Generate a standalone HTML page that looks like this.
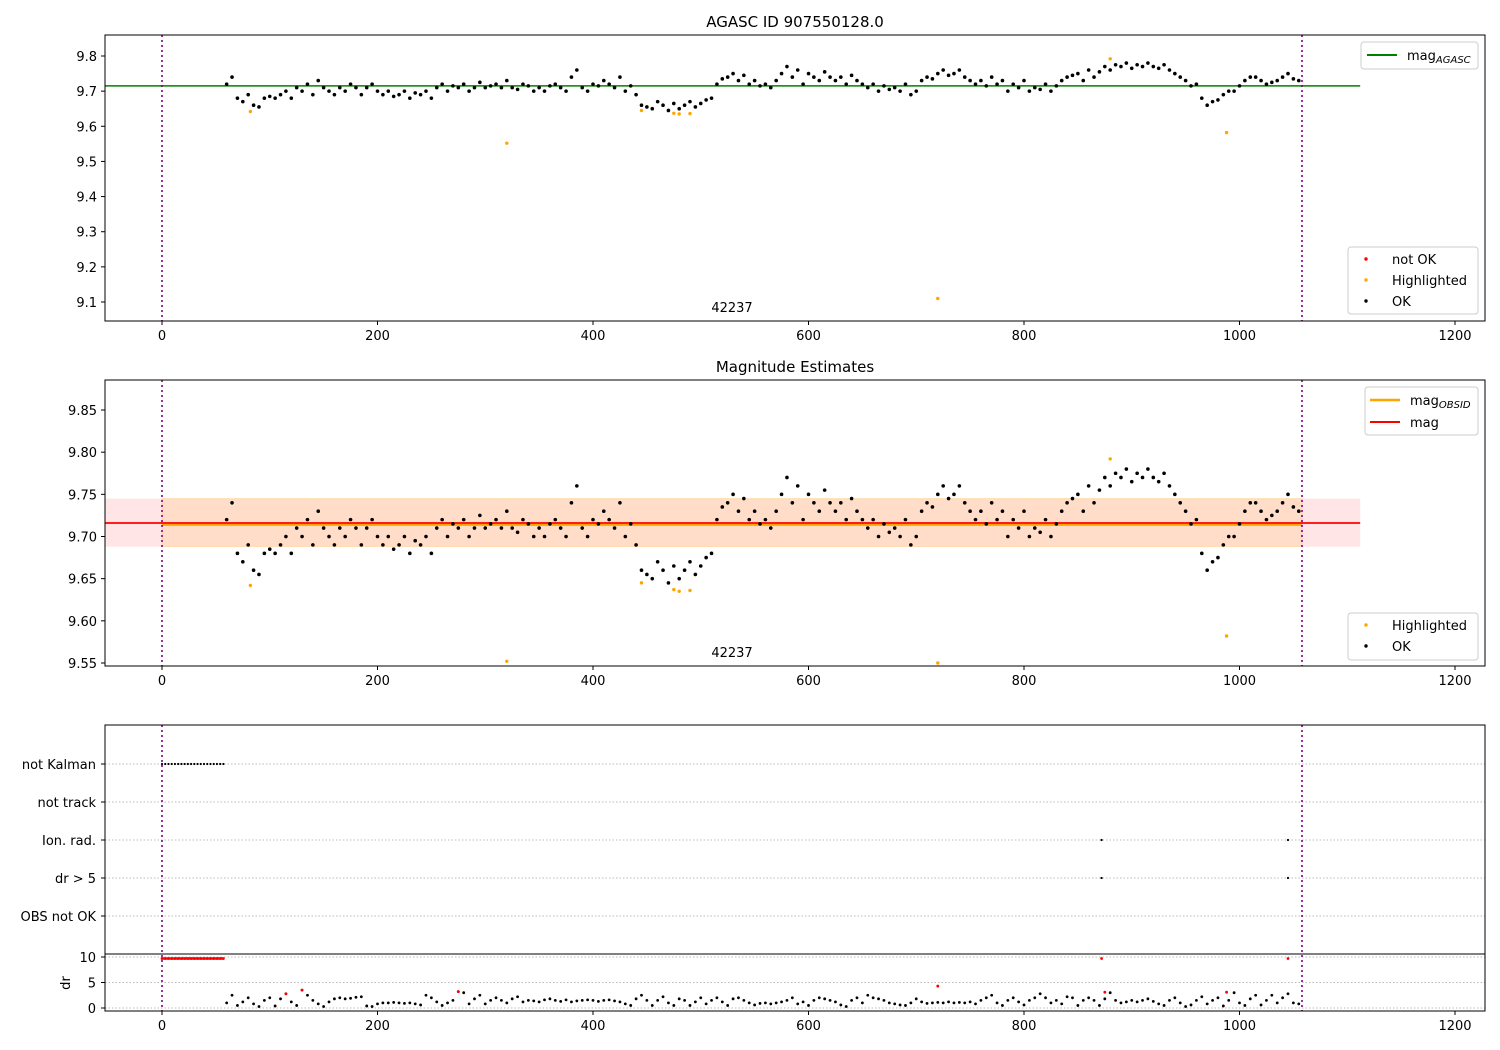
<!DOCTYPE html>
<html><head><meta charset="utf-8"><style>
body{margin:0;background:#fff}
svg{display:block;font-family:"DejaVu Sans","Liberation Sans",sans-serif}
</style></head><body>
<svg id="c" width="1500" height="1050" xmlns="http://www.w3.org/2000/svg"></svg>
<script>
const magT0 = 60, magDt = 5;
const magValues = [
9.72,9.74,9.68,9.67,9.69,9.66,9.655,9.68,9.685,
9.68,9.69,9.70,9.68,9.71,9.70,9.72,9.69,9.73,9.71,9.70,9.69,9.71,9.70,9.72,9.71,9.69,9.71,9.72,9.70,
9.69,9.70,9.685,9.69,9.70,9.68,9.695,9.69,9.70,9.68,
9.71,9.72,9.70,9.715,9.71,9.72,9.70,9.71,9.725,9.71,
9.715,9.72,9.71,9.73,9.71,9.705,9.72,9.715,9.70,9.71,
9.70,9.715,9.72,9.71,9.70,9.74,9.76,9.71,9.70,9.72,
9.715,9.73,9.72,9.71,9.74,9.70,9.715,9.69,
9.66,9.655,9.65,9.67,9.66,9.645,9.665,9.65,9.66,9.67,9.655,9.665,
9.675,9.68,
9.72,9.735,9.74,9.75,9.73,9.745,
9.72,9.73,9.715,9.72,9.71,9.73,9.75,9.77,
9.74,9.76,9.72,9.75,9.74,9.73,9.755,9.74,
9.73,9.74,9.72,9.745,9.73,9.72,
9.71,9.72,9.70,9.715,9.705,9.71,9.70,9.72,9.69,9.70,
9.73,9.74,9.735,9.75,
9.76,9.745,9.75,9.76,9.74,9.73,
9.72,9.73,9.715,9.74,9.72,9.73,9.70,9.72,9.71,9.73,
9.70,9.71,9.705,9.72,9.70,9.715,
9.73,9.74,9.745,9.75,9.73,9.76,9.74,9.755,
9.77,9.76,9.775,9.77,9.78,9.765,9.775,9.77,9.78,9.77,9.765,9.775,9.76,9.75,
9.74,9.73,9.715,9.72,
9.68,9.66,9.67,9.675,9.69,9.70,
9.70,9.715,9.73,9.74,
9.74,9.73,9.72,9.725,9.73,9.74,9.75,9.735,9.73];
const hlTimes = [82,320,445,475,480,490,720,880,988];
const hlMags = [9.642,9.552,9.645,9.637,9.635,9.636,9.11,9.792,9.582];
const drValues = [
1.0,2.5,0.5,1.2,2.0,0.8,0.3,1.5,2.0,0.4,
1.8,2.8,1.2,0.5,3.5,2.5,1.5,0.8,0.3,1.2,
1.8,2.0,1.8,1.9,2.1,2.2,0.4,0.3,0.8,1.0,
1.0,1.1,1.0,0.9,1.0,0.8,0.6,2.5,2.0,1.2,
0.5,1.0,1.5,3.2,3.0,0.8,1.8,2.5,0.8,1.5,
2.0,1.5,1.0,1.8,2.2,1.2,1.5,1.4,1.2,1.6,
1.8,1.5,1.3,1.6,1.2,1.4,1.5,1.6,1.5,1.3,
1.5,1.6,1.4,1.2,0.8,0.5,1.8,2.5,1.5,0.5,
1.5,2.2,1.0,0.5,1.8,1.5,0.5,1.2,2.0,0.8,
1.5,2.0,1.2,0.5,1.8,2.0,1.5,1.0,0.6,0.9,
1.0,0.8,1.0,1.2,1.5,2.0,0.8,1.2,0.5,1.5,
2.0,1.8,1.5,1.2,0.6,0.3,1.5,2.0,1.0,2.5,
2.0,1.8,1.5,1.0,0.8,0.6,0.5,1.0,1.8,1.2,
0.9,1.0,1.1,1.0,1.2,1.0,1.1,1.0,1.2,0.8,
1.5,2.0,2.5,1.0,0.5,1.5,2.0,1.2,0.6,1.5,
2.0,2.8,2.0,1.0,1.5,0.8,2.2,2.0,0.5,1.5,
2.0,1.5,0.5,1.8,3.0,1.5,1.0,1.2,1.5,1.2,
1.5,1.8,1.3,0.8,0.5,1.5,2.0,1.0,0.3,0.6,
1.5,2.2,0.8,1.5,2.0,0.4,1.5,3.0,1.0,0.5,
1.8,2.5,0.6,1.5,2.5,1.0,2.0,2.8,1.0,0.8];
const drRedTimes = [115,130,275,720,875,988];
const drRedValues = [2.8,3.5,3.2,4.3,3.1,3.1];
const kalmanTimes = [0,3,6,9,12,15,18,21,24,27,30,33,36,39,42,45,48,51,54,57];
const flagTimes = [872,1045];
const flagLabels = ["not Kalman","not track","Ion. rad.","dr > 5","OBS not OK"];
const xTicks = [0,200,400,600,800,1000,1200];
const y1Ticks = [9.1,9.2,9.3,9.4,9.5,9.6,9.7,9.8];
const y2Ticks = [9.55,9.60,9.65,9.70,9.75,9.80,9.85];
const drTicks = [0,5,10];
const magAgasc = 9.715, magObsid = 9.715, magMean = 9.716, bandLo = 9.688, bandHi = 9.745;
const tStart = 0, tEnd = 1058, lineEnd = 1112;

const svg = document.getElementById('c');
const NS = 'http://www.w3.org/2000/svg';
function mk(tag, attrs, parent){const e=document.createElementNS(NS,tag);for(const k in attrs)e.setAttribute(k,attrs[k]);(parent||svg).appendChild(e);return e;}
const X = t => 162 + t*1.0775;
const Y1 = v => 56 + (9.8 - v)*351.43;
const Y2 = v => 410 + (9.85 - v)*843.3;
const YD = v => 1008 - v*5.1;
const flagY = i => 764 + i*38;
const L=105, R=1485;

function xAxis(yb, labels, name){
  xTicks.forEach(t=>{
    mk('line',{x1:X(t),x2:X(t),y1:yb,y2:yb+4,stroke:'#000'});
    if(labels){const tx=mk('text',{x:X(t),y:yb+19,'text-anchor':'middle','font-size':13});tx.textContent=t;
    
    }
  });
}
function frame(top,bot,name){
  const r=mk('rect',{x:L,y:top,width:R-L,height:bot-top,fill:'none',stroke:'#000','stroke-width':1});
  
  
}
function vlines(top,bot){
  [tStart,tEnd].forEach(t=>mk('line',{x1:X(t),x2:X(t),y1:top,y2:bot,stroke:'#800080','stroke-width':1.6,'stroke-dasharray':'2,3'}));
}
function txt(x,y,s,attrs,name){const e=mk('text',Object.assign({x:x,y:y,'font-size':13},attrs||{}));e.textContent=s;
  
  return e;}

// ---------- Panel 1 ----------
txt(795,27,'AGASC ID 907550128.0',{'text-anchor':'middle','font-size':15},'title-top');
y1Ticks.forEach(v=>{mk('line',{x1:L-4,x2:L,y1:Y1(v),y2:Y1(v),stroke:'#000'});txt(L-8,Y1(v)+5,v.toFixed(1),{'text-anchor':'end'},'y1-tick-label');});
mk('line',{x1:L,x2:X(lineEnd),y1:Y1(magAgasc),y2:Y1(magAgasc),stroke:'#008000','stroke-width':1.6});
magValues.forEach((v,i)=>{const c=mk('circle',{cx:X(magT0+i*magDt),cy:Y1(v),r:1.8,fill:'#000'});
  
  });
hlTimes.forEach((t,i)=>{const c=mk('circle',{cx:X(t),cy:Y1(hlMags[i]),r:1.7,fill:'orange'});
  
  });
vlines(35,321);
txt(732,312,'42237',{'text-anchor':'middle'},'obsid-label-top');
frame(35,321,'top-plot-area');
xAxis(321,true,'x1');

function legendBox(x,y,w,h,name){const r=mk('rect',{x:x,y:y,width:w,height:h,rx:3,fill:'#fff','fill-opacity':0.85,stroke:'#ccc'});
  
  }
legendBox(1361,42,117,27,'legend-mag-agasc');
mk('line',{x1:1367,x2:1397,y1:55,y2:55,stroke:'#008000','stroke-width':2});
const la=txt(1407,60,'mag',{},'legend-entry-mag-agasc');
const sa=mk('tspan',{'font-size':10,'font-style':'italic',dy:3},la);sa.textContent='AGASC';
legendBox(1348,247,130,67,'legend-points-top');
[['not OK','red',259],['Highlighted','orange',280],['OK','#000',301]].forEach(e=>{
  mk('circle',{cx:1366,cy:e[2],r:1.7,fill:e[1]});txt(1392,e[2]+5,e[0],{},'legend-entry');});

// ---------- Panel 2 ----------
txt(795,372,'Magnitude Estimates',{'text-anchor':'middle','font-size':15},'title-middle');
mk('rect',{x:L,y:Y2(bandHi),width:X(lineEnd)-L,height:Y2(bandLo)-Y2(bandHi),fill:'rgba(255,0,0,0.1)'});
mk('rect',{x:X(tStart),y:Y2(bandHi),width:X(tEnd)-X(tStart),height:Y2(bandLo)-Y2(bandHi),fill:'rgba(255,165,0,0.12)',stroke:'rgba(255,165,0,0.2)'});
mk('line',{x1:X(tStart),x2:X(tEnd),y1:Y2(magObsid)+1,y2:Y2(magObsid)+1,stroke:'orange','stroke-width':2});
mk('line',{x1:L,x2:X(lineEnd),y1:Y2(magMean),y2:Y2(magMean),stroke:'red','stroke-width':1.8});
y2Ticks.forEach(v=>{mk('line',{x1:L-4,x2:L,y1:Y2(v),y2:Y2(v),stroke:'#000'});txt(L-8,Y2(v)+5,v.toFixed(2),{'text-anchor':'end'},'y2-tick-label');});
magValues.forEach((v,i)=>{const c=mk('circle',{cx:X(magT0+i*magDt),cy:Y2(v),r:1.8,fill:'#000'});
  
  });
hlTimes.forEach((t,i)=>{const c=mk('circle',{cx:X(t),cy:Math.min(Y2(hlMags[i]),663),r:1.7,fill:'orange'});
  
  });
vlines(380,666);
txt(732,657,'42237',{'text-anchor':'middle'},'obsid-label-middle');
frame(380,666,'middle-plot-area');
xAxis(666,true,'x2');
legendBox(1365,387,113,48,'legend-mag-lines');
mk('line',{x1:1370,x2:1400,y1:400,y2:400,stroke:'orange','stroke-width':2.5});
const lo=txt(1410,405,'mag',{},'legend-entry-mag-obsid');
const so=mk('tspan',{'font-size':10,'font-style':'italic',dy:3},lo);so.textContent='OBSID';
mk('line',{x1:1370,x2:1400,y1:422,y2:422,stroke:'red','stroke-width':2});
txt(1410,427,'mag',{},'legend-entry-mag');
legendBox(1348,613,130,47,'legend-points-middle');
[['Highlighted','orange',625],['OK','#000',646]].forEach(e=>{
  mk('circle',{cx:1366,cy:e[2],r:1.7,fill:e[1]});txt(1392,e[2]+5,e[0],{},'legend-entry');});

// ---------- Panel 3 flags ----------
flagLabels.forEach((s,i)=>{
  mk('line',{x1:L,x2:R,y1:flagY(i),y2:flagY(i),stroke:'#bbb','stroke-dasharray':'1.5,2'});
  mk('line',{x1:L-4,x2:L,y1:flagY(i),y2:flagY(i),stroke:'#000'});
  txt(L-9,flagY(i)+5,s,{'text-anchor':'end'},'flag-label');
});
kalmanTimes.forEach(t=>{const c=mk('circle',{cx:X(t),cy:flagY(0),r:1.1,fill:'#000'});
  
  });
flagTimes.forEach(t=>{[2,3].forEach(i=>{const c=mk('circle',{cx:X(t),cy:flagY(i),r:1.1,fill:'#000'});
  
  });});
drTicks.forEach(v=>{mk('line',{x1:L,x2:R,y1:YD(v),y2:YD(v),stroke:'#bbb','stroke-dasharray':'1.5,2'});
  mk('line',{x1:L-4,x2:L,y1:YD(v),y2:YD(v),stroke:'#000'});txt(L-9,YD(v)+5,v,{'text-anchor':'end'},'dr-tick-label');});
txt(70,983,'dr',{'text-anchor':'middle',transform:'rotate(-90 70 983)'},'dr-axis-title');
drValues.forEach((v,i)=>{const c=mk('circle',{cx:X(magT0+i*magDt),cy:YD(v),r:1.4,fill:'#000'});
  
  });
drRedTimes.forEach((t,i)=>{const c=mk('circle',{cx:X(t),cy:YD(drRedValues[i]),r:1.4,fill:'red'});
  
  });
kalmanTimes.concat(flagTimes).forEach(t=>{const c=mk('circle',{cx:X(t),cy:YD(9.7),r:1.4,fill:'red'});
  
  });
mk('line',{x1:X(0),x2:X(57),y1:YD(9.7),y2:YD(9.7),stroke:'red','stroke-width':2.5});
vlines(725,1011);
frame(725,1011,'bottom-plot-area');
mk('line',{x1:L,x2:R,y1:954,y2:954,stroke:'#000','stroke-width':1});
xAxis(1011,true,'x3');
</script>
</body></html>
